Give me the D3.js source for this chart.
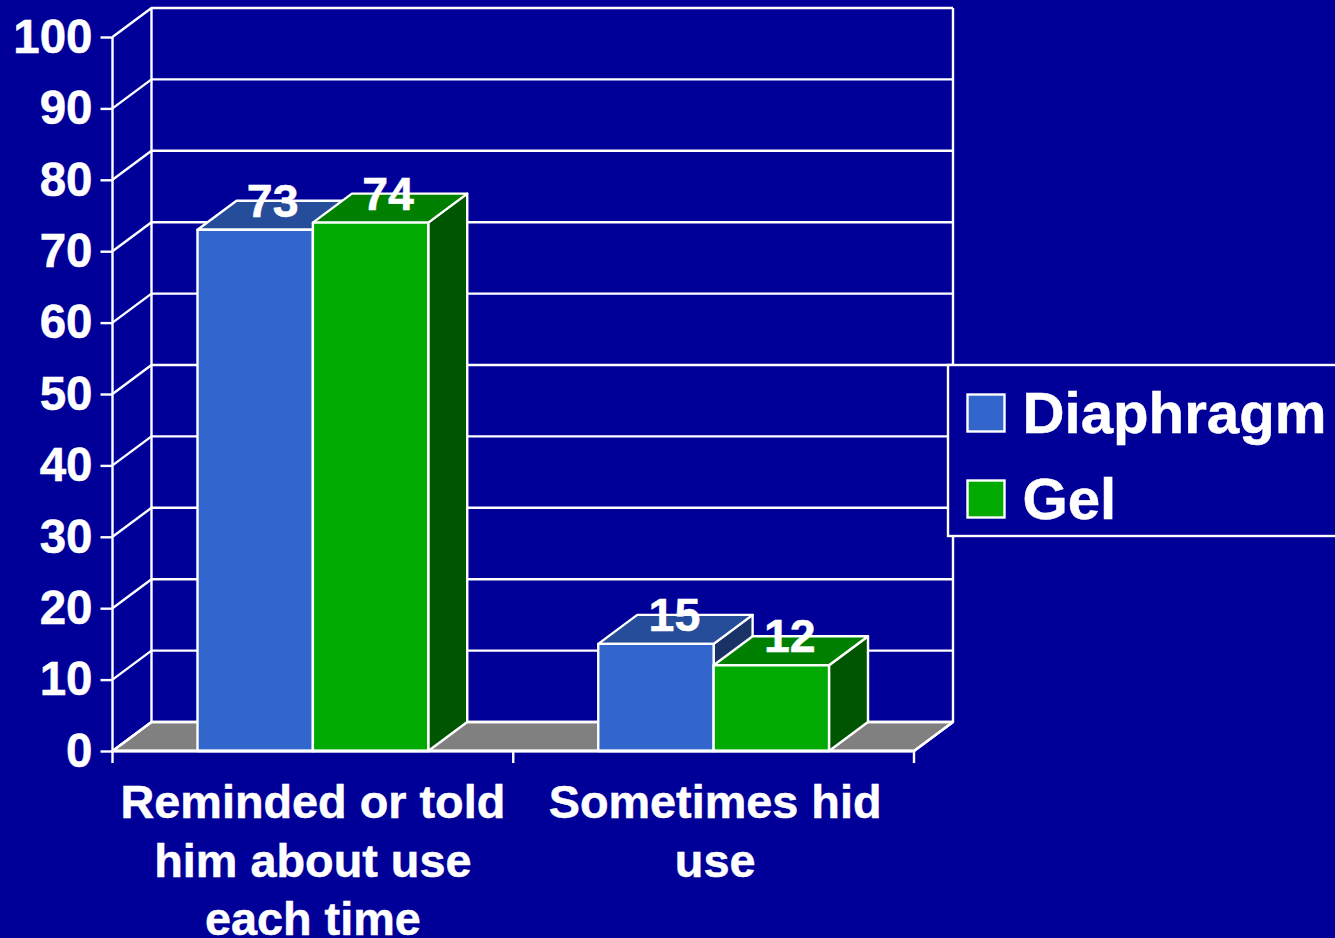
<!DOCTYPE html>
<html>
<head>
<meta charset="utf-8">
<script src="https://cdn.jsdelivr.net/npm/d3@7"></script>
<style>
  html, body { margin: 0; padding: 0; background: #000099; overflow: hidden; }
  text { font-family: "Liberation Sans", Arial, sans-serif; font-weight: bold; fill: #fff; stroke: #fff; stroke-width: 0.5px; }
</style>
</head>
<body>
<div id="chart"></div>
<script>
var categories = [
  ["Reminded or told", "him about use", "each time"],
  ["Sometimes hid", "use"]
];
var seriesNames = ["Diaphragm", "Gel"];
var diaphragm = [73, 15];
var gel = [74, 12];
var yTicks = [0, 10, 20, 30, 40, 50, 60, 70, 80, 90, 100];

var faceColors = [
  { front: "#3366cc", top: "#264d99", side: "#1a3366" },
  { front: "#00aa00", top: "#008000", side: "#005500" }
];

var svgWidth = 1335, svgHeight = 938;
var margin = { left: 112.5, right: 914, top: 37, bottom: 751 };
var depthX = 39, depthY = -29;
var strokeW = 2.4;

var svg = d3.select("#chart").append("svg")
  .attr("width", svgWidth)
  .attr("height", svgHeight)
  .style("display", "block");

var x0 = d3.scaleBand()
  .domain(d3.range(categories.length))
  .range([margin.left, margin.right]);

// bars fill the middle 57.6% of each band
var x1 = d3.scaleBand()
  .domain(d3.range(seriesNames.length))
  .range([85, x0.bandwidth() - 85]);

var y = d3.scaleLinear().domain([0, 100]).range([margin.bottom, margin.top]);

function poly(points) { return points.map(function(p) { return p.join(","); }).join(" "); }

// floor
svg.append("polygon")
  .attr("points", poly([
    [margin.left, y(0)],
    [margin.left + depthX, y(0) + depthY],
    [margin.right + depthX, y(0) + depthY],
    [margin.right, y(0)]
  ]))
  .attr("fill", "#808080")
  .attr("stroke", "#fff")
  .attr("stroke-width", strokeW)
  .attr("stroke-linejoin", "round");

// back wall and side wall gridlines
var grid = svg.append("g").attr("fill", "none").attr("stroke", "#fff").attr("stroke-width", strokeW);
grid.selectAll("polyline").data(yTicks).enter().append("polyline")
  .attr("points", function(d) {
    return poly([
      [margin.left, y(d)],
      [margin.left + depthX, y(d) + depthY],
      [margin.right + depthX, y(d) + depthY]
    ]);
  });
grid.append("line")
  .attr("x1", margin.left + depthX).attr("x2", margin.left + depthX)
  .attr("y1", y(0) + depthY).attr("y2", y(100) + depthY);
grid.append("line")
  .attr("x1", margin.right + depthX).attr("x2", margin.right + depthX)
  .attr("y1", y(0) + depthY).attr("y2", y(100) + depthY);
grid.append("line")
  .attr("x1", margin.right).attr("x2", margin.right + depthX)
  .attr("y1", y(0)).attr("y2", y(0) + depthY);

// y axis
var leftAxis = d3.axisLeft(y).tickValues(yTicks).tickSize(12).tickPadding(8).tickFormat(d3.format("d"));
var yAxis = svg.append("g")
  .attr("transform", "translate(" + margin.left + ",0)")
  .call(leftAxis);
yAxis.select(".domain").remove();
yAxis.selectAll("line").attr("stroke", "#fff").attr("stroke-width", strokeW);
yAxis.selectAll("text").attr("font-size", 47.5).attr("fill", "#fff")
  .style("font-family", "'Liberation Sans', Arial, sans-serif").style("font-weight", "bold");
svg.append("line")
  .attr("x1", margin.left).attr("x2", margin.left)
  .attr("y1", y(100)).attr("y2", y(0))
  .attr("stroke", "#fff").attr("stroke-width", strokeW);

// bars, one group per category
var bars = [];
categories.forEach(function(c, i) {
  [diaphragm, gel].forEach(function(values, s) {
    bars.push({ cat: i, series: s, value: values[i] });
  });
});

function barLeft(d) { return x0(d.cat) + x1(d.series); }

var barG = svg.selectAll(".bar").data(bars).enter().append("g")
  .attr("class", "bar")
  .attr("stroke", "#fff")
  .attr("stroke-width", strokeW)
  .attr("stroke-linejoin", "round");

barG.append("polygon")
  .attr("fill", function(d) { return faceColors[d.series].side; })
  .attr("points", function(d) {
    var r = barLeft(d) + x1.bandwidth();
    return poly([
      [r, y(0)], [r, y(d.value)],
      [r + depthX, y(d.value) + depthY], [r + depthX, y(0) + depthY]
    ]);
  });
barG.append("polygon")
  .attr("fill", function(d) { return faceColors[d.series].top; })
  .attr("points", function(d) {
    var l = barLeft(d), r = l + x1.bandwidth();
    return poly([
      [l, y(d.value)], [l + depthX, y(d.value) + depthY],
      [r + depthX, y(d.value) + depthY], [r, y(d.value)]
    ]);
  });
barG.append("rect")
  .attr("fill", function(d) { return faceColors[d.series].front; })
  .attr("x", barLeft)
  .attr("y", function(d) { return y(d.value); })
  .attr("width", x1.bandwidth())
  .attr("height", function(d) { return y(0) - y(d.value); });

// x axis line and ticks on band edges
var xEdges = x0.domain().map(function(d) { return x0(d); }).concat([margin.right]);
svg.append("line")
  .attr("x1", margin.left).attr("x2", margin.right)
  .attr("y1", y(0)).attr("y2", y(0))
  .attr("stroke", "#fff").attr("stroke-width", 3);
svg.selectAll(".xtick").data(xEdges).enter().append("line")
  .attr("class", "xtick")
  .attr("x1", function(d) { return d; }).attr("x2", function(d) { return d; })
  .attr("y1", y(0)).attr("y2", y(0) + 12)
  .attr("stroke", "#fff").attr("stroke-width", strokeW);

// category labels
var catLabels = svg.selectAll(".cat").data(categories).enter().append("text")
  .attr("class", "cat")
  .attr("text-anchor", "middle")
  .attr("font-size", 46.8);
catLabels.selectAll("tspan").data(function(d, i) {
    return d.map(function(line) { return { line: line, cat: i }; });
  }).enter().append("tspan")
  .attr("x", function(d) { return x0(d.cat) + x0.bandwidth() / 2 + d.cat * 1.5; })
  .attr("y", function(d, i) { return 818 + i * 58.5; })
  .text(function(d) { return d.line; });

// value labels sit over the top face of each bar
svg.selectAll(".val").data(bars).enter().append("text")
  .attr("class", "val")
  .attr("text-anchor", "middle")
  .attr("font-size", 46.5)
  .attr("x", function(d) { return barLeft(d) + x1.bandwidth() / 2 + depthX / 2 - 2 + d.cat; })
  .attr("y", function(d) { return y(d.value) - 13; })
  .text(function(d) { return d.value; });

// legend
var legend = svg.append("g");
legend.append("rect")
  .attr("x", 948).attr("y", 365)
  .attr("width", 400).attr("height", 171)
  .attr("fill", "#000099")
  .attr("stroke", "#fff")
  .attr("stroke-width", strokeW);
var legendItem = legend.selectAll(".item").data(seriesNames).enter().append("g")
  .attr("class", "item")
  .attr("transform", function(d, i) { return "translate(0," + (i * 86) + ")"; });
legendItem.append("rect")
  .attr("x", 967.5).attr("y", 394.5)
  .attr("width", 37).attr("height", 37)
  .attr("fill", function(d, i) { return faceColors[i].front; })
  .attr("stroke", "#fff")
  .attr("stroke-width", strokeW);
legendItem.append("text")
  .attr("x", 1022.5).attr("y", 433)
  .attr("font-size", 58.2)
  .text(function(d) { return d; });
</script>
</body>
</html>
